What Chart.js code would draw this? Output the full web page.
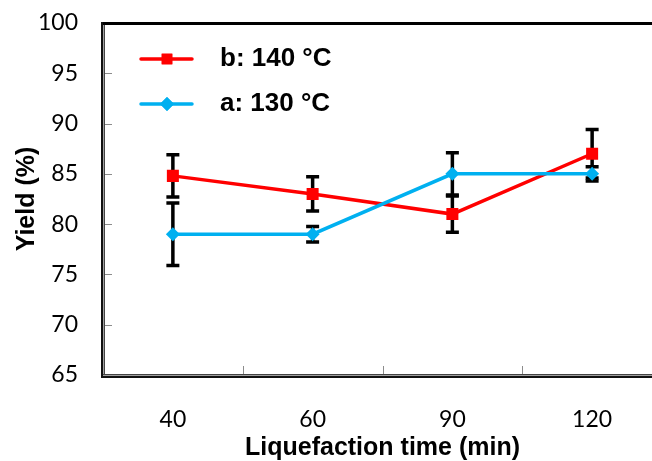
<!DOCTYPE html>
<html><head><meta charset="utf-8">
<script src="https://cdn.jsdelivr.net/npm/chart.js@4.4.0/dist/chart.umd.min.js"></script>
<style>html,body{margin:0;padding:0;background:#fff;overflow:hidden}#wrap{width:652px;height:461px;position:relative;overflow:hidden}</style>
</head><body><div id="wrap"><canvas id="c" width="672" height="461"></canvas></div>
<script>
const categories = ['40', '60', '90', '120'];
const yieldB140 = [84.8, 83.0, 81.0, 87.0];
const errB140 = [2.1, 1.7, 1.8, 2.4];
const yieldA130 = [79.0, 79.0, 85.0, 85.0];
const errA130 = [3.1, 0.77, 2.1, 0.7];
const seriesLabels = ['b: 140 °C', 'a: 130 °C'];
const yTickValues = [65, 70, 75, 80, 85, 90, 95, 100];
const xTitle = 'Liquefaction time (min)';
const yTitle = 'Yield (%)';

const RED = '#FF0000', BLUE = '#00B0F0';
const TICK_FONT = {family: 'Lato', size: 23};
const TITLE_FONT = {family: '"Liberation Sans", Arial', size: 25, weight: 'bold', lineHeight: 1};

const errorBars = {
  id: 'errorBars',
  beforeDatasetsDraw(chart) {
    const ctx = chart.ctx, ys = chart.scales.y;
    ctx.save();
    ctx.strokeStyle = '#000'; ctx.lineWidth = 3.5; ctx.lineCap = 'butt';
    chart.data.datasets.forEach((ds, i) => {
      const meta = chart.getDatasetMeta(i);
      ds.errors.forEach((e, j) => {
        const x = meta.data[j].x;
        const t = ys.getPixelForValue(ds.data[j] + e), b = ys.getPixelForValue(ds.data[j] - e);
        ctx.beginPath();
        ctx.moveTo(x, t); ctx.lineTo(x, b);
        ctx.moveTo(x - 6.5, t); ctx.lineTo(x + 6.5, t);
        ctx.moveTo(x - 6.5, b); ctx.lineTo(x + 6.5, b);
        ctx.stroke();
      });
    });
    ctx.restore();
  }
};

const frameAndTicks = {
  id: 'frameAndTicks',
  beforeDatasetsDraw(chart) {
    const ctx = chart.ctx, a = chart.chartArea, xs = chart.scales.x, ys = chart.scales.y;
    ctx.save();
    ctx.strokeStyle = '#8c8c8c'; ctx.lineWidth = 1;
    ys.ticks.forEach(t => {
      if (t.value <= ys.min || t.value >= ys.max) return;
      const y = Math.round(ys.getPixelForValue(t.value)) + 0.5;
      ctx.beginPath(); ctx.moveTo(a.left, y); ctx.lineTo(a.left + 9, y); ctx.stroke();
    });
    for (let i = 0; i < categories.length - 1; i++) {
      const x = Math.round((xs.getPixelForTick(i) + xs.getPixelForTick(i + 1)) / 2) + 0.5;
      ctx.beginPath(); ctx.moveTo(x, a.bottom); ctx.lineTo(x, a.bottom - 9); ctx.stroke();
    }
    ctx.restore();
  },
  afterDraw(chart) {
    const ctx = chart.ctx, a = chart.chartArea;
    const L = Math.round(a.left), T = Math.round(a.top), B = Math.round(a.bottom), R = Math.round(a.right);
    ctx.save();
    ctx.fillStyle = '#000'; ctx.fillRect(L - 2, T - 1, R - L + 2, 3);
    ctx.fillStyle = '#111'; ctx.fillRect(L - 2, T - 1, 2, B - T + 3);
    ctx.fillStyle = '#a0a0a0'; ctx.fillRect(L, T + 2, 1, B - T - 2);
    ctx.fillStyle = '#444'; ctx.fillRect(L + 1, T + 2, 1, B - T - 2);
    ctx.fillStyle = '#444'; ctx.fillRect(L, B - 1, R - L, 1);
    ctx.fillStyle = '#a0a0a0'; ctx.fillRect(L, B, R - L, 1);
    ctx.fillStyle = '#111'; ctx.fillRect(L - 2, B + 1, R - L + 2, 2);
    ctx.restore();
  }
};

const customLegend = {
  id: 'customLegend',
  afterDraw(chart) {
    const ctx = chart.ctx;
    const rows = [0, 1];
    const ys = [59, 104];
    ctx.save();
    rows.forEach((i, r) => {
      const ds = chart.data.datasets[i];
      const y = ys[r];
      ctx.strokeStyle = ds.borderColor; ctx.lineWidth = 3.5; ctx.lineCap = 'round';
      ctx.beginPath(); ctx.moveTo(141, y); ctx.lineTo(192, y); ctx.stroke();
      ctx.fillStyle = ds.pointBackgroundColor;
      Chart.helpers.drawPoint(ctx, {pointStyle: ds.pointStyle, radius: ds.pointStyle === 'rect' ? 7.5 : 7, rotation: 0, borderWidth: 0}, 167, y);
      ctx.fill();
      ctx.fillStyle = '#000';
      ctx.font = 'bold 26px "Liberation Sans", Arial';
      ctx.textBaseline = 'middle'; ctx.textAlign = 'left';
      ctx.fillText(ds.label, 220, y);
    });
    ctx.restore();
  }
};

new Chart(document.getElementById('c'), {
  type: 'line',
  data: {
    labels: categories,
    datasets: [
      {label: seriesLabels[0], data: yieldB140, errors: errB140, borderColor: RED, backgroundColor: RED,
       pointBackgroundColor: RED, pointBorderColor: RED, pointBorderWidth: 0, pointStyle: 'rect', pointRadius: 8.5,
       borderWidth: 3.5, tension: 0, order: 1},
      {label: seriesLabels[1], data: yieldA130, errors: errA130, borderColor: BLUE, backgroundColor: BLUE,
       pointBackgroundColor: BLUE, pointBorderColor: BLUE, pointBorderWidth: 0, pointStyle: 'rectRot', pointRadius: 7,
       borderWidth: 3.5, tension: 0, order: 0}
    ]
  },
  options: {
    responsive: false,
    animation: false,
    devicePixelRatio: 1,
    layout: {padding: {top: 23, right: 10, left: 0, bottom: 0}},
    plugins: {legend: {display: false}, tooltip: {enabled: false}},
    scales: {
      x: {
        type: 'category',
        offset: true,
        grid: {display: false, drawTicks: false},
        border: {display: false},
        ticks: {font: TICK_FONT, color: '#000', padding: 31, maxRotation: 0},
        title: {display: true, text: xTitle, font: TITLE_FONT, color: '#000', padding: 0},
        afterFit(s) { s.height = 86; s.paddingLeft = 0; s.paddingRight = 0; }
      },
      y: {
        min: 65, max: 100,
        grid: {display: false, drawTicks: false},
        border: {display: false},
        afterBuildTicks(s) { s.ticks = yTickValues.map(v => ({value: v})); },
        ticks: {font: TICK_FONT, color: '#000', padding: 25},
        title: {display: true, text: yTitle, font: TITLE_FONT, color: '#000', padding: {top: 15, bottom: 0}},
        afterFit(s) { s.width = 103; s.paddingTop = 0; s.paddingBottom = 0; }
      }
    }
  },
  plugins: [frameAndTicks, errorBars, customLegend]
});
</script>
</body></html>
